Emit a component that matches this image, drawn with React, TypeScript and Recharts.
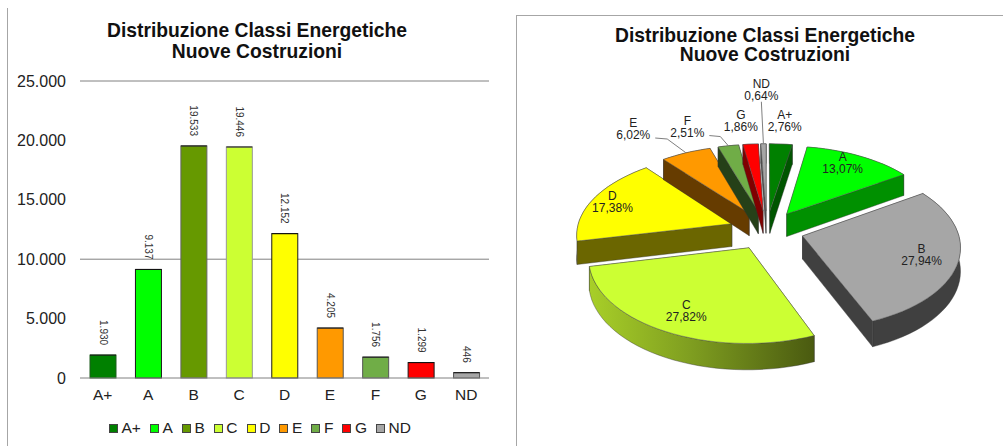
import React from "react";
import {
  BarChart,
  Bar,
  Cell,
  CartesianGrid,
  XAxis,
  YAxis,
  Legend,
  LabelList,
  PieChart,
  Pie,
} from "recharts";

const classes = ["A+", "A", "B", "C", "D", "E", "F", "G", "ND"];
const buildings = [1930, 9137, 19533, 19446, 12152, 4205, 1756, 1299, 446];
const yTicks = [0, 5000, 10000, 15000, 20000, 25000];
const visibleGridLines = [10000, 25000];

const barColors = ["#008000", "#00ff00", "#669900", "#ccff33", "#ffff00", "#ff9900", "#70ad47", "#ff0000", "#a6a6a6"];
const barStrokes = ["#1c5c1c", "#1a1a1a", "#666666", "#999999", "#1a1a1a", "#555555", "#555555", "#1a1a1a", "#555555"];
const pieColors = ["#008000", "#00ff00", "#a6a6a6", "#ccff33", "#ffff00", "#ff9900", "#70ad47", "#ff0000", "#a6a6a6"];
const wallColors = ["#005500", "#009000", "#404040", "url(#wallC)", "#6b6600", "#663c00", "#254018", "#800000", "#555555"];

// label distance from pie centre (in radii) and angle nudge in degrees
const labelRadii = [1.67, 1.07, 1.01, 1.01, 1.1, 1.84, 1.68, 1.68, 2.42];
const labelNudges = [0, -2.5, 0, 0, 0, -6, -8.5, -1.5, 0];
const leaders: Record<number, number[][]> = {
  5: [[22, 9], [34, 10]],
  6: [[22, 9], [33, 10]],
  8: [[0, 12]],
};

const FONT = "'Liberation Sans', Arial, sans-serif";
const EXPLODE = 0.24;
const SQUASH = 0.527;
const PERSPECTIVE = 0.12;
const DEPTH = 23;

const barData = classes.map((name, i) => ({ name, value: buildings[i] }));
const formatThousands = (v: number) => String(v).replace(/\B(?=(\d{3})+$)/g, ".");

const polar = (deg: number, r: number) => {
  const rad = (deg * Math.PI) / 180;
  return [r * Math.sin(rad), -r * Math.cos(rad)];
};

const project = (cx: number, cy: number, R: number, X: number, Y: number, drop = 0) => {
  const f = 1 + PERSPECTIVE * Y;
  return [cx + R * X * f, cy + R * SQUASH * Y * f + drop * f];
};

const toPath = (pts: number[][]) =>
  "M" + pts.map((p) => p[0].toFixed(1) + "," + p[1].toFixed(1)).join("L") + "Z";

const Slice3D = (props: any) => {
  const { cx, cy, outerRadius, startAngle, endAngle, index } = props;
  const a0 = 90 - startAngle;
  const a1 = 90 - endAngle;
  const [ox, oy] = polar((a0 + a1) / 2, EXPLODE);
  const steps = Math.max(2, Math.ceil((a1 - a0) / 3));

  const world: number[][] = [];
  for (let s = 0; s <= steps; s++) {
    const [x, y] = polar(a0 + ((a1 - a0) * s) / steps, 1);
    world.push([ox + x, oy + y]);
  }
  const pt = (w: number[], drop = 0) => project(cx, cy, outerRadius, w[0], w[1], drop);
  const apex = [ox, oy];

  const outerTop = world.map((w) => pt(w));
  const outerBottom = world.map((w) => pt(w, DEPTH)).reverse();
  const radialFill = wallColors[index] === "url(#wallC)" ? "#4f5f12" : wallColors[index];
  const walls = [
    { pts: [pt(apex), pt(world[0]), pt(world[0], DEPTH), pt(apex, DEPTH)], fill: radialFill },
    { pts: [pt(apex), pt(world[steps]), pt(world[steps], DEPTH), pt(apex, DEPTH)], fill: radialFill },
    { pts: [...outerTop, ...outerBottom], fill: wallColors[index] },
  ];
  const meanY = (pts: number[][]) => pts.reduce((acc, p) => acc + p[1], 0) / pts.length;
  walls.sort((a, b) => meanY(a.pts) - meanY(b.pts));

  return (
    <g>
      <defs>
        <linearGradient id="wallC" x1="0" y1="0" x2="1" y2="0">
          <stop offset="0%" stopColor="#a8cf28" />
          <stop offset="45%" stopColor="#7f9e20" />
          <stop offset="100%" stopColor="#4a5a10" />
        </linearGradient>
      </defs>
      {walls.map((w, i) => (
        <path key={i} d={toPath(w.pts)} fill={w.fill} stroke="#333" strokeWidth={0.4} />
      ))}
      <path d={toPath([pt(apex), ...outerTop])} fill={pieColors[index]} stroke="#555" strokeWidth={0.5} />
    </g>
  );
};

const renderPieLabel = (props: any) => {
  const { cx, cy, outerRadius, midAngle, percent, index } = props;
  const mid = 90 - midAngle;
  const [lx, ly] = polar(mid + labelNudges[index], labelRadii[index]);
  const [x, y] = project(cx, cy, outerRadius, lx, ly);
  const [ox, oy] = polar(mid, 1 + EXPLODE);
  const end = project(cx, cy, outerRadius, ox, oy);
  const leader = leaders[index];
  return (
    <g key={index}>
      {leader && (
        <polyline
          points={[...leader.map((d) => [x + d[0], y + d[1]]), end].map((p) => p.join(",")).join(" ")}
          fill="none"
          stroke="#7f7f7f"
          strokeWidth={1}
        />
      )}
      <text x={x} y={y - 2} textAnchor="middle" fontSize={12} fontFamily={FONT} fill="#222">
        {classes[index]}
      </text>
      <text x={x} y={y + 10} textAnchor="middle" fontSize={12} fontFamily={FONT} fill="#222">
        {(percent * 100).toFixed(2).replace(".", ",")}%
      </text>
    </g>
  );
};

const renderBarLabel = (props: any) => {
  const { x, y, width, value } = props;
  return (
    <text
      transform={`translate(${x + width / 2},${y - 10}) rotate(90)`}
      textAnchor="end"
      dominantBaseline="central"
      fontSize={10}
      fontFamily={FONT}
      fill="#333"
    >
      {formatThousands(value)}
    </text>
  );
};

// bar with coloured sides and a black cap, as in the original
const CappedBar = (props: any) => {
  const { x, y, width, height, fill, stroke } = props;
  return (
    <g>
      <rect x={x} y={y} width={width} height={height} fill={fill} stroke={stroke} strokeWidth={1} />
      <line x1={x} x2={x + width} y1={y} y2={y} stroke="#111" strokeWidth={1} />
    </g>
  );
};

const ClassLegend = () => (
  <div style={{ display: "flex", paddingLeft: 109, height: 36, alignItems: "center", fontFamily: FONT, fontSize: 15.5, color: "#222" }}>
    {classes.map((name, i) => (
      <div key={name} style={{ display: "flex", alignItems: "center", marginRight: 9.1 }}>
        <span style={{ width: 7, height: 7, background: barColors[i], border: "1px solid #444", marginRight: 3.5 }} />
        {name}
      </div>
    ))}
  </div>
);

const Title = ({ center, top, lineHeight }: { center: number; top: number; lineHeight: number }) => (
  <div
    style={{
      position: "absolute",
      left: center - 200,
      top,
      width: 400,
      textAlign: "center",
      fontFamily: FONT,
      fontWeight: "bold",
      fontSize: 19.3,
      lineHeight: lineHeight + "px",
      color: "#111",
    }}
  >
    Distribuzione Classi Energetiche
    <br />
    Nuove Costruzioni
  </div>
);

const App = () => {
  return (
    <div style={{ position: "absolute", left: 0, top: 0, width: 1003, height: 446, overflow: "hidden", background: "#fff" }}>
      <div style={{ position: "absolute", left: 7, top: 8, width: 1, height: 438, background: "#a6a6a6" }} />
      <div style={{ position: "absolute", left: 516, top: 15, right: 0, bottom: 0, borderLeft: "1px solid #a6a6a6", borderTop: "1px solid #a6a6a6" }} />

      <div style={{ position: "absolute", left: 0, top: 0 }}>
        <BarChart width={505} height={446} data={barData} margin={{ top: 81, right: 16, left: 0, bottom: 0 }}>
          <CartesianGrid vertical={false} horizontalValues={visibleGridLines} stroke="#808080" />
          <XAxis
            dataKey="name"
            height={32}
            interval={0}
            tickLine={false}
            tickMargin={5}
            axisLine={{ stroke: "#808080" }}
            tick={{ fontSize: 15.5, fontFamily: FONT, fill: "#222" }}
          />
          <YAxis
            width={80}
            domain={[0, 25000]}
            ticks={yTicks}
            tickLine={false}
            axisLine={false}
            tickSize={0}
            tickMargin={14}
            tickFormatter={formatThousands}
            tick={{ fontSize: 16, fontFamily: FONT, fill: "#222" }}
          />
          <Legend verticalAlign="bottom" height={36} content={() => <ClassLegend />} />
          <Bar dataKey="value" barSize={26} isAnimationActive={false} shape={CappedBar}>
            {barData.map((d, i) => (
              <Cell key={d.name} fill={barColors[i]} stroke={barStrokes[i]} />
            ))}
            <LabelList dataKey="value" content={renderBarLabel} />
          </Bar>
        </BarChart>
      </div>
      <Title center={257} top={20} lineHeight={21} />

      <div style={{ position: "absolute", left: 516, top: 0 }}>
        <PieChart width={487} height={446} margin={{ top: 0, right: 0, bottom: 0, left: 0 }}>
          <Pie
            data={barData}
            dataKey="value"
            nameKey="name"
            cx={250.7}
            cy={230}
            outerRadius={155}
            startAngle={90}
            endAngle={-270}
            isAnimationActive={false}
            shape={Slice3D}
            label={renderPieLabel}
            labelLine={false}
          />
        </PieChart>
      </div>
      <Title center={765} top={26} lineHeight={19} />
    </div>
  );
};

export default App;
